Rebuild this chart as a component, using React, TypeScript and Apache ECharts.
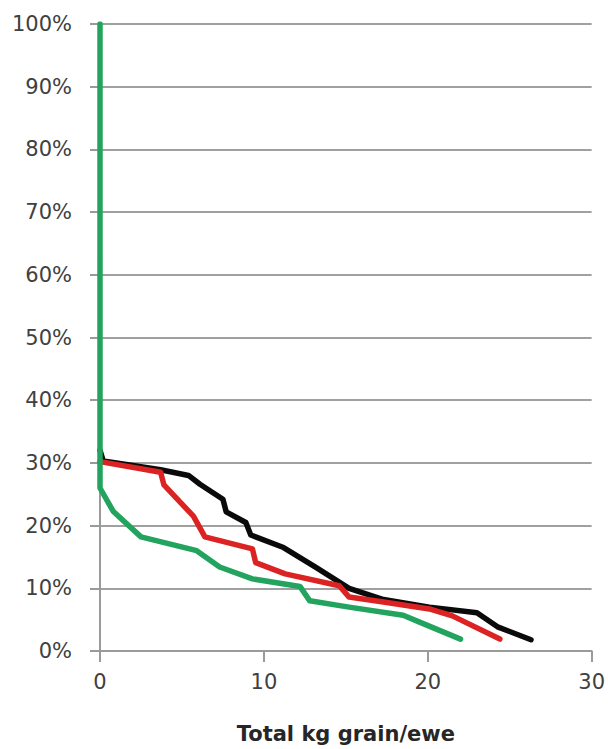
import React, { useEffect, useRef } from "react";
import * as echarts from "echarts";

const blackSeries: [number, number][] = [
  [0, 32], [0.2, 30.3], [3.7, 28.9], [5.4, 28.0], [6.1, 26.6], [7.5, 24.2], [7.7, 22.2],
  [8.9, 20.5], [9.2, 18.5], [11.2, 16.5], [13.2, 13.3], [15.2, 10.0], [17.3, 8.2],
  [20.1, 7.0], [23.0, 6.1], [24.3, 3.8], [26.3, 1.8],
];
const redSeries: [number, number][] = [
  [0, 30.2], [3.7, 28.5], [3.9, 26.5], [5.7, 21.5], [6.4, 18.2], [9.3, 16.3], [9.5, 14.1],
  [11.3, 12.3], [14.6, 10.4], [15.2, 8.6], [17.3, 7.8], [20.1, 6.7], [21.5, 5.6], [24.4, 1.9],
];
const greenSeries: [number, number][] = [
  [0, 100], [0, 26], [0.8, 22.3], [2.5, 18.2], [5.9, 16], [7.3, 13.4], [9.3, 11.5],
  [12.2, 10.3], [12.8, 8.0], [15.2, 7.0], [18.5, 5.7], [19.5, 4.6], [22.0, 1.9],
];
const xTicks = [0, 10, 20, 30];
const yTicks = [0, 10, 20, 30, 40, 50, 60, 70, 80, 90, 100];
const xTitle = "Total kg grain/ewe";

const FONT = "DejaVu Sans";

export default function App() {
  const ref = useRef<HTMLDivElement>(null);
  useEffect(() => {
    if (!ref.current) return;
    const chart = echarts.init(ref.current, null, { renderer: "svg" });
    const mk = (name: string, data: [number, number][], color: string) => ({
      name,
      type: "line",
      data,
      showSymbol: false,
      symbol: "none",
      lineStyle: { color, width: 5.5, cap: "round", join: "round" },
      itemStyle: { color },
    });
    chart.setOption({
      animation: false,
      grid: { left: 100, right: 16, top: 24, bottom: 95, containLabel: false },
      xAxis: {
        type: "value",
        min: xTicks[0],
        max: xTicks[xTicks.length - 1],
        interval: 10,
        name: xTitle,
        nameLocation: "middle",
        nameGap: 72,
        nameTextStyle: { fontFamily: FONT, fontSize: 21, fontWeight: "bold", color: "#262626" },
        axisLine: { show: true, lineStyle: { color: "#9a9a9a", width: 2 } },
        axisTick: { show: true, length: 11, lineStyle: { color: "#9a9a9a", width: 2 } },
        axisLabel: { fontFamily: FONT, fontSize: 21, color: "#404040", margin: 20 },
        splitLine: { show: false },
      },
      yAxis: {
        type: "value",
        min: yTicks[0],
        max: yTicks[yTicks.length - 1],
        interval: 10,
        axisLine: { show: true, lineStyle: { color: "#9a9a9a", width: 2 } },
        axisTick: { show: true, length: 10, lineStyle: { color: "#9a9a9a", width: 2 } },
        axisLabel: {
          fontFamily: FONT,
          fontSize: 21,
          color: "#404040",
          margin: 28,
          formatter: "{value}%",
        },
        splitLine: { show: true, lineStyle: { color: "#a0a0a0", width: 2 } },
      },
      series: [
        mk("Black", blackSeries, "#0a0a0a"),
        mk("Red", redSeries, "#dc2323"),
        mk("Green", greenSeries, "#22a45e"),
      ],
    });
    return () => chart.dispose();
  }, []);
  return (
    <div
      ref={ref}
      style={{ position: "fixed", left: 0, top: 0, width: 608, height: 749, background: "#ffffff" }}
    />
  );
}
